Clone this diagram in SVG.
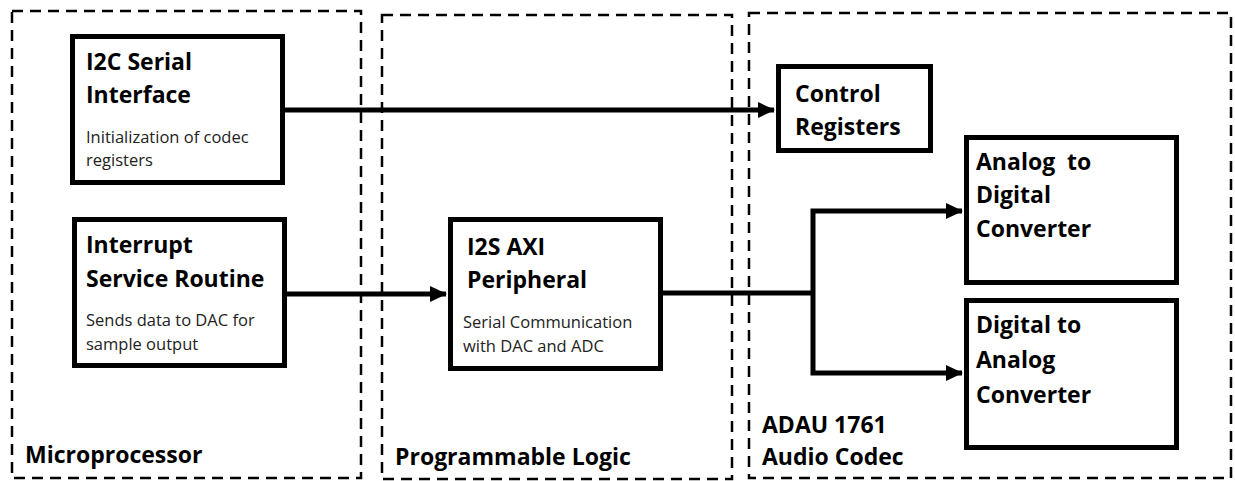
<svg xmlns="http://www.w3.org/2000/svg" width="1235" height="481" viewBox="0 0 1235 481">
<style>
.grp{fill:none;stroke:#000;stroke-width:2.5;stroke-dasharray:11 7}
.box{fill:#fff;stroke:#000;stroke-width:5}
.t{font-family:"Open Sans","Liberation Sans",sans-serif;font-weight:bold;font-size:23px;fill:#000}
.s{font-family:"Open Sans","Liberation Sans",sans-serif;font-size:16.5px;fill:#222}
.c{fill:none;stroke:#000;stroke-width:5}
</style>
<defs>
<marker id="ah" markerUnits="userSpaceOnUse" markerWidth="18" markerHeight="18" refX="16" refY="9" orient="auto">
<path d="M0,1 L17,9 L0,17 Z" fill="#000"/>
</marker>
</defs>
<g id="microprocessor">
<rect class="grp" x="12" y="11" width="349" height="467"/>
<text class="t" x="25" y="463">Microprocessor</text>
</g>
<g id="programmable-logic">
<rect class="grp" x="382" y="15" width="350" height="464"/>
<text class="t" x="395" y="465">Programmable Logic</text>
</g>
<g id="audio-codec">
<rect class="grp" x="749" y="13" width="482" height="465"/>
<text class="t" x="762" y="433">ADAU 1761</text>
<text class="t" x="762" y="465">Audio Codec</text>
</g>
<g id="connectors">
<path class="c" d="M285,110 H774" marker-end="url(#ah)"/>
<path class="c" d="M287,294 H446" marker-end="url(#ah)"/>
<path class="c" d="M663,293 H813"/>
<path class="c" d="M813,293 V211 H962" marker-end="url(#ah)"/>
<path class="c" d="M813,293 V373 H962" marker-end="url(#ah)"/>
</g>
<g id="i2c">
<rect class="box" x="72.5" y="36.5" width="210" height="146"/>
<text class="t" x="86" y="70">I2C Serial</text>
<text class="t" x="86" y="103">Interface</text>
<text class="s" x="86" y="143">Initialization of codec</text>
<text class="s" x="86" y="166">registers</text>
</g>
<g id="isr">
<rect class="box" x="74.5" y="219.5" width="210" height="146"/>
<text class="t" x="86" y="253">Interrupt</text>
<text class="t" x="86" y="287">Service Routine</text>
<text class="s" x="86" y="326">Sends data to DAC for</text>
<text class="s" x="86" y="350">sample output</text>
</g>
<g id="i2s">
<rect class="box" x="450.5" y="219.5" width="210" height="149"/>
<text class="t" x="467" y="255">I2S AXI</text>
<text class="t" x="467" y="288">Peripheral</text>
<text class="s" x="463" y="328">Serial Communication</text>
<text class="s" x="463" y="352">with DAC and ADC</text>
</g>
<g id="control-registers">
<rect class="box" x="778.5" y="66.5" width="152" height="84"/>
<text class="t" x="795" y="102">Control</text>
<text class="t" x="795" y="135">Registers</text>
</g>
<g id="adc">
<rect class="box" x="966.5" y="137.5" width="210" height="145"/>
<text class="t" x="976" y="170" xml:space="preserve">Analog  to</text>
<text class="t" x="976" y="203">Digital</text>
<text class="t" x="976" y="237">Converter</text>
</g>
<g id="dac">
<rect class="box" x="966.5" y="300.5" width="210" height="147"/>
<text class="t" x="976" y="333">Digital to</text>
<text class="t" x="976" y="368">Analog</text>
<text class="t" x="976" y="403">Converter</text>
</g>
</svg>
